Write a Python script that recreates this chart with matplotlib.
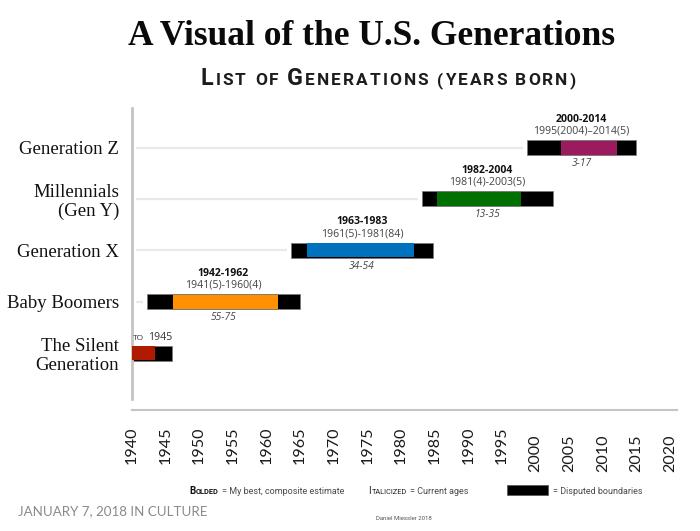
import matplotlib
matplotlib.use("Agg")
import matplotlib.pyplot as plt
from matplotlib import font_manager
from matplotlib.patches import Rectangle
import numpy as np

# ---------------- data ----------------
generations = ["The Silent\nGeneration", "Baby Boomers", "Generation X",
               "Millennials\n(Gen Y)", "Generation Z"]
outer_start = [1940.0, 1942.2, 1963.6, 1983.1, 1998.8]   # disputed boundary start
core_start = [1940.0, 1946.2, 1966.0, 1985.3, 2003.8]
core_end = [1943.5, 1961.7, 1982.0, 1997.8, 2012.1]
outer_end = [1946.0, 1965.0, 1984.8, 2002.6, 2014.9]     # disputed boundary end
core_colors = ["#b01a00", "#ff9100", "#0071bc", "#007000", "#9c1a5e"]
bold_labels = ["", "1942-1962", "1963-1983", "1982-2004", "2000-2014"]
range_labels = ["", "1941(5)-1960(4)", "1961(5)-1981(84)", "1981(4)-2003(5)",
                "1995(2004)\u20132014(5)"]
age_labels = ["", "55-75", "34-54", "13-35", "3-17"]
silent_note = ["TO", "1945"]
year_ticks = list(range(1940, 2021, 5))

W, H = 700, 531
fig = plt.figure(figsize=(W / 100, H / 100), dpi=100)
renderer = fig.canvas.get_renderer()


def has_font(name):
    try:
        font_manager.findfont(font_manager.FontProperties(family=name),
                              fallback_to_default=False)
        return True
    except Exception:
        return False


NARROW = "Liberation Sans Narrow" if has_font("Liberation Sans Narrow") else "Roboto"
NARROW_SIZE = 7.3 if NARROW == "Liberation Sans Narrow" else 6.5
SANS = "Open Sans"
SERIF = "Liberation Serif"

# ---------------- axes ----------------
ax_left, ax_right, ax_top, ax_bottom = 131.7, 677, 105, 410
ax = fig.add_axes([ax_left / W, 1 - ax_bottom / H,
                   (ax_right - ax_left) / W, (ax_bottom - ax_top) / H])
px_per_year = 6.73
ax.set_xlim(1940, 1940 + (ax_right - ax_left) / px_per_year)
ax.set_ylim(-1.11, 4.83)
row_px = (ax_bottom - ax_top) / (4.83 + 1.11)

y = np.arange(len(generations))
os_ = np.array(outer_start)
oe_ = np.array(outer_end)
cs_ = np.array(core_start)
ce_ = np.array(core_end)

# faint guide lines
g0 = 1940 + 4.5 / px_per_year
for i in range(len(y)):
    g1 = os_[i] - 4 / px_per_year
    if g1 > g0:
        ax.plot([g0, g1], [y[i], y[i]], color="#e9e9e9", lw=1.6,
                solid_capstyle="butt", zorder=1)

bh = 15 / row_px
ax.barh(y, oe_ - os_, left=os_, height=bh, color="black",
        edgecolor="#7a7a7a", linewidth=0.5, zorder=2)
ax.barh(y, ce_ - cs_, left=cs_, height=bh * 0.93, color=core_colors,
        linewidth=0, zorder=3)

for i in range(len(y)):
    xc = (os_[i] + oe_[i]) / 2
    if bold_labels[i]:
        ax.annotate(bold_labels[i], (xc, y[i]), xytext=(0, 20.6),
                    textcoords="offset points", ha="center", va="center",
                    fontsize=7.6, fontweight="bold", family=SANS, color="#111111")
    if range_labels[i]:
        ax.annotate(range_labels[i], (xc, y[i]), xytext=(0, 11.9),
                    textcoords="offset points", ha="center", va="center",
                    fontsize=7.6, family=SANS, color="#444444")
    if age_labels[i]:
        ax.annotate(age_labels[i], (xc, y[i]), xytext=(0, -11.3),
                    textcoords="offset points", ha="center", va="center",
                    fontsize=7.4, style="italic", family=SANS, color="#444444")

# "TO 1945" note on the Silent Generation (small caps "TO")
t_to = ax.annotate(silent_note[0], (os_[0], y[0]), xytext=(1.2, 9.2),
                   textcoords="offset points", ha="left", va="baseline",
                   fontsize=6.0, family=SANS, color="#333333")
w_to = t_to.get_window_extent(renderer).width * 0.72
ax.annotate(silent_note[1], (os_[0], y[0]), xytext=(1.2 + w_to + 2.2, 9.2),
            textcoords="offset points", ha="left", va="baseline",
            fontsize=7.6, family=SANS, color="#333333")

# spines
for s in ("top", "right"):
    ax.spines[s].set_visible(False)
ax.spines["left"].set_color("#c4c4c4")
ax.spines["left"].set_linewidth(2.0)
ax.spines["left"].set_bounds(-1.11 + 11 / row_px, 4.83 - 3 / row_px)
ax.spines["bottom"].set_color("#c4c4c4")
ax.spines["bottom"].set_linewidth(1.5)

ax.set_xticks(year_ticks, [str(v) for v in year_ticks])
ax.tick_params(axis="x", length=0, pad=12, labelsize=11.6, labelrotation=90,
               labelcolor="#1a1a1a")
for lab in ax.get_xticklabels():
    lab.set_family("Lato")
ax.set_yticks(y, generations)
ax.tick_params(axis="y", length=0, pad=9.1, labelsize=13.5, labelcolor="#111111")
for lab in ax.get_yticklabels():
    lab.set_family(SERIF)
    lab.set_linespacing(1.15)

# the reference draws the 2000+ year labels a little lower
for tick_val, tick in zip(year_ticks, ax.xaxis.get_major_ticks()):
    if tick_val >= 2000:
        tick.set_pad(12 + 7.5 * 0.72)


# ---------------- figure texts ----------------
def run_text(x_px, base_px, pieces, ha="left", tracking=0.0):
    arts = []
    for txt, kw, gap in pieces:
        chars = list(txt) if tracking else [txt]
        for j, ch in enumerate(chars):
            t = fig.text(0, 0, ch, va="baseline", ha="left", **kw)
            w = t.get_window_extent(renderer).width
            g = tracking if j < len(chars) - 1 else gap
            arts.append((t, w, g))
    total = sum(w + g for _, w, g in arts) - arts[-1][2]
    cur = x_px - total / 2 if ha == "center" else x_px
    for t, w, g in arts:
        t.set_position((cur / W, 1 - base_px / H))
        cur += w + g


fig.text(372 / W, 1 - 45 / H, "A Visual of the U.S. Generations", ha="center",
         va="baseline", family=SERIF, fontweight="bold", fontsize=25.5,
         color="#0a0a0a")

big = dict(family="Roboto", fontweight="bold", fontsize=16.8, color="#1c1c1c")
small = dict(family="Roboto", fontweight="bold", fontsize=12.4, color="#1c1c1c")
run_text(388.3, 85, [("L", big, 2.0), ("IST", small, 9), ("OF", small, 9),
                     ("G", big, 2.0), ("ENERATIONS", small, 9),
                     ("(YEARS", small, 8), ("BORN)", small, 0)],
         ha="center", tracking=2.0)

lg_big_b = dict(family=NARROW, fontweight="bold", fontsize=NARROW_SIZE + 0.6, color="#111111")
lg_sm_b = dict(family=NARROW, fontweight="bold", fontsize=NARROW_SIZE - 1.2, color="#111111")
lg_big = dict(family=NARROW, fontsize=NARROW_SIZE + 0.6, color="#222222")
lg_sm = dict(family=NARROW, fontsize=NARROW_SIZE - 1.2, color="#222222")
lg_txt = dict(family=NARROW, fontsize=NARROW_SIZE, color="#4a4a4a")
run_text(189, 494, [("B", lg_big_b, 0.3), ("OLDED", lg_sm_b, 3.5),
                    ("= My best, composite estimate", lg_txt, 0)])
run_text(368.3, 494, [("I", lg_big, 0.5), ("TALICIZED", lg_sm, 3.5),
                      ("= Current ages", lg_txt, 0)])
fig.patches.append(Rectangle((507.3 / W, 1 - 495 / H), 41 / W, 10.5 / H,
                             transform=fig.transFigure, facecolor="black",
                             edgecolor="#555555", linewidth=0.5))
run_text(552.7, 494, [("= Disputed boundaries", lg_txt, 0)])

fig.text(18 / W, 1 - 515 / H, "JANUARY 7, 2018 IN CULTURE", ha="left",
         va="baseline", family="Lato", fontsize=9.6, color="#8a8a8a")
fig.text(404 / W, 1 - 518 / H, "Daniel Miessler 2018", ha="center", va="center",
         family="Roboto", fontsize=4.3, color="#555555")

fig.savefig("out.png", dpi=100, facecolor="white")
